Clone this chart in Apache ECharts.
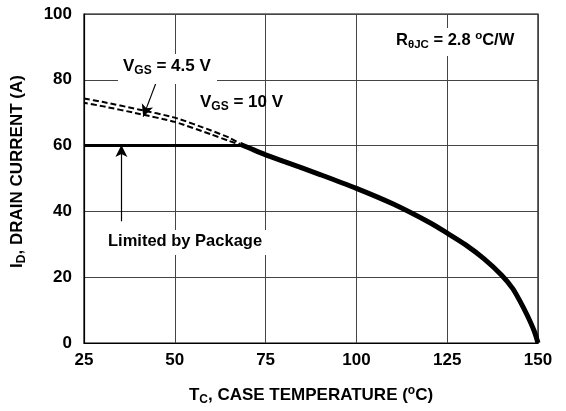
<!DOCTYPE html>
<html><head><meta charset="utf-8">
<script src="https://cdn.jsdelivr.net/npm/echarts@6/dist/echarts.min.js"></script>
<style>html,body{margin:0;padding:0;background:#fff}#c{width:566px;height:411px}</style>
</head><body><div id="c"></div>
<script>
const xTicks = [25, 50, 75, 100, 125, 150];
const yTicks = [0, 20, 40, 60, 80, 100];
// Package-limited current (A)
const packageT = [25, 68];
const packageI = [60, 60];
// Thermal-limited current, common part (A)
const thermalT = [68, 70, 75, 80, 90, 100, 110, 120, 125, 130, 135, 140, 143, 145, 147, 149, 150];
const thermalI = [60.4, 59.5, 57.2, 55.2, 51.2, 47.0, 42.3, 36.7, 33.4, 29.9, 25.7, 20.6, 16.6, 12.8, 8.5, 3.5, 0];
// Dashed extrapolations above package limit
const dashT = [25, 30, 40, 50, 60, 65, 68];
const vgs45I = [74.3, 73.3, 71.0, 68.5, 64.6, 62.4, 60.6];
const vgs10I = [73.0, 72.0, 69.7, 67.2, 63.4, 61.4, 60.3];

const zip = (a, b) => a.map((v, i) => [v, b[i]]);
const FF = '"Liberation Sans", Arial, sans-serif';
const chart = echarts.init(document.getElementById('c'), null, {renderer: 'canvas'});
const nameRich = {
  n: {fontFamily: FF, fontWeight: 'bold', fontSize: 17, color: '#000'},
  s: {fontFamily: FF, fontWeight: 'bold', fontSize: 12, color: '#000', verticalAlign: 'bottom', padding: [9, 0, 0, 0]},
  sup: {fontFamily: FF, fontWeight: 'bold', fontSize: 12, color: '#000', verticalAlign: 'top', padding: [0, 0, 9, 0]}
};
const annRich = (fs, ss) => ({
  n: {fontFamily: FF, fontWeight: 'bold', fontSize: fs, fill: '#000'},
  s: {fontFamily: FF, fontWeight: 'bold', fontSize: ss, fill: '#000', verticalAlign: 'bottom', padding: [9, 0, 0, 0]},
  sup: {fontFamily: FF, fontWeight: 'bold', fontSize: ss, fill: '#000', verticalAlign: 'top', padding: [0, 0, 9, 0]}
});
chart.setOption({
  animation: false,
  grid: {left: 84, right: 28, top: 14, bottom: 66, show: true, borderColor: '#000', borderWidth: 1.2},
  xAxis: {
    type: 'value', min: 25, max: 150, interval: 25,
    axisLine: {show: true, lineStyle: {color: '#000', width: 1.2}},
    axisTick: {show: false},
    splitLine: {show: true, lineStyle: {color: '#444', width: 1}},
    axisLabel: {color: '#000', fontFamily: FF, fontWeight: 'bold', fontSize: 17, margin: 9,
      formatter: v => xTicks.includes(v) ? String(v) : ''},
    name: '{n|T}{s|C}{n|, CASE TEMPERATURE (}{sup|o}{n|C)}',
    nameLocation: 'middle', nameGap: 42,
    nameTextStyle: {rich: nameRich}
  },
  yAxis: {
    type: 'value', min: 0, max: 100, interval: 20,
    axisLine: {show: true, lineStyle: {color: '#000', width: 1.2}},
    axisTick: {show: false},
    splitLine: {show: true, lineStyle: {color: '#444', width: 1}},
    axisLabel: {color: '#000', fontFamily: FF, fontWeight: 'bold', fontSize: 17, margin: 12,
      formatter: v => yTicks.includes(v) ? String(v) : ''},
    name: '{n|I}{s|D}{n|, DRAIN CURRENT (A)}',
    nameLocation: 'middle', nameGap: 56, nameRotate: 90,
    nameTextStyle: {rich: nameRich, padding: [0, 0, 0, 14]}
  },
  series: [
    {type: 'line', data: zip(packageT, packageI), showSymbol: false, lineStyle: {color: '#000', width: 3}, z: 5},
    {type: 'line', data: zip(thermalT, thermalI), showSymbol: false, smooth: 0.3, lineStyle: {color: '#000', width: 5}, z: 5},
    {type: 'line', data: zip(dashT, vgs45I), showSymbol: false, smooth: 0.2, lineStyle: {color: '#000', width: 2, type: [6, 3]}, z: 4},
    {type: 'line', data: zip(dashT, vgs10I), showSymbol: false, smooth: 0.2, lineStyle: {color: '#000', width: 2, type: [6, 3], dashOffset: 2}, z: 4,
      markLine: {
        silent: true, symbol: ['none', 'arrow'], symbolSize: [9, 12],
        lineStyle: {color: '#000', width: 1.2, type: 'solid'}, label: {show: false},
        data: [
          [{coord: [44.8, 79.0]}, {coord: [41.3, 68.8]}],
          [{coord: [35.3, 37.0]}, {coord: [35.3, 60.2]}]
        ]
      }}
  ],
  graphic: [
    {type: 'rect', left: 118, top: 54, shape: {width: 99, height: 30}, style: {fill: '#fff'}, z: 50},
    {type: 'text', left: 123, top: 58, z: 51, style: {text: '{n|V}{s|GS}{n| = 4.5 V}', rich: annRich(17, 12)}},
    {type: 'text', left: 200, top: 94, z: 51, style: {text: '{n|V}{s|GS}{n| = 10 V}', rich: annRich(17, 12)}},
    {type: 'rect', left: 392, top: 28, shape: {width: 142, height: 28}, style: {fill: '#fff'}, z: 50},
    {type: 'text', left: 396, top: 30, z: 51, style: {text: '{n|R}{s|θJC}{n| = 2.8 }{sup|o}{n|C/W}', rich: annRich(16.5, 11.5)}},
    {type: 'rect', left: 104, top: 230, shape: {width: 166, height: 25}, style: {fill: '#fff'}, z: 50},
    {type: 'text', left: 108, top: 233, z: 51, style: {text: 'Limited by Package', font: 'bold 16.5px ' + FF, fill: '#000'}}
  ]
});
</script></body></html>
